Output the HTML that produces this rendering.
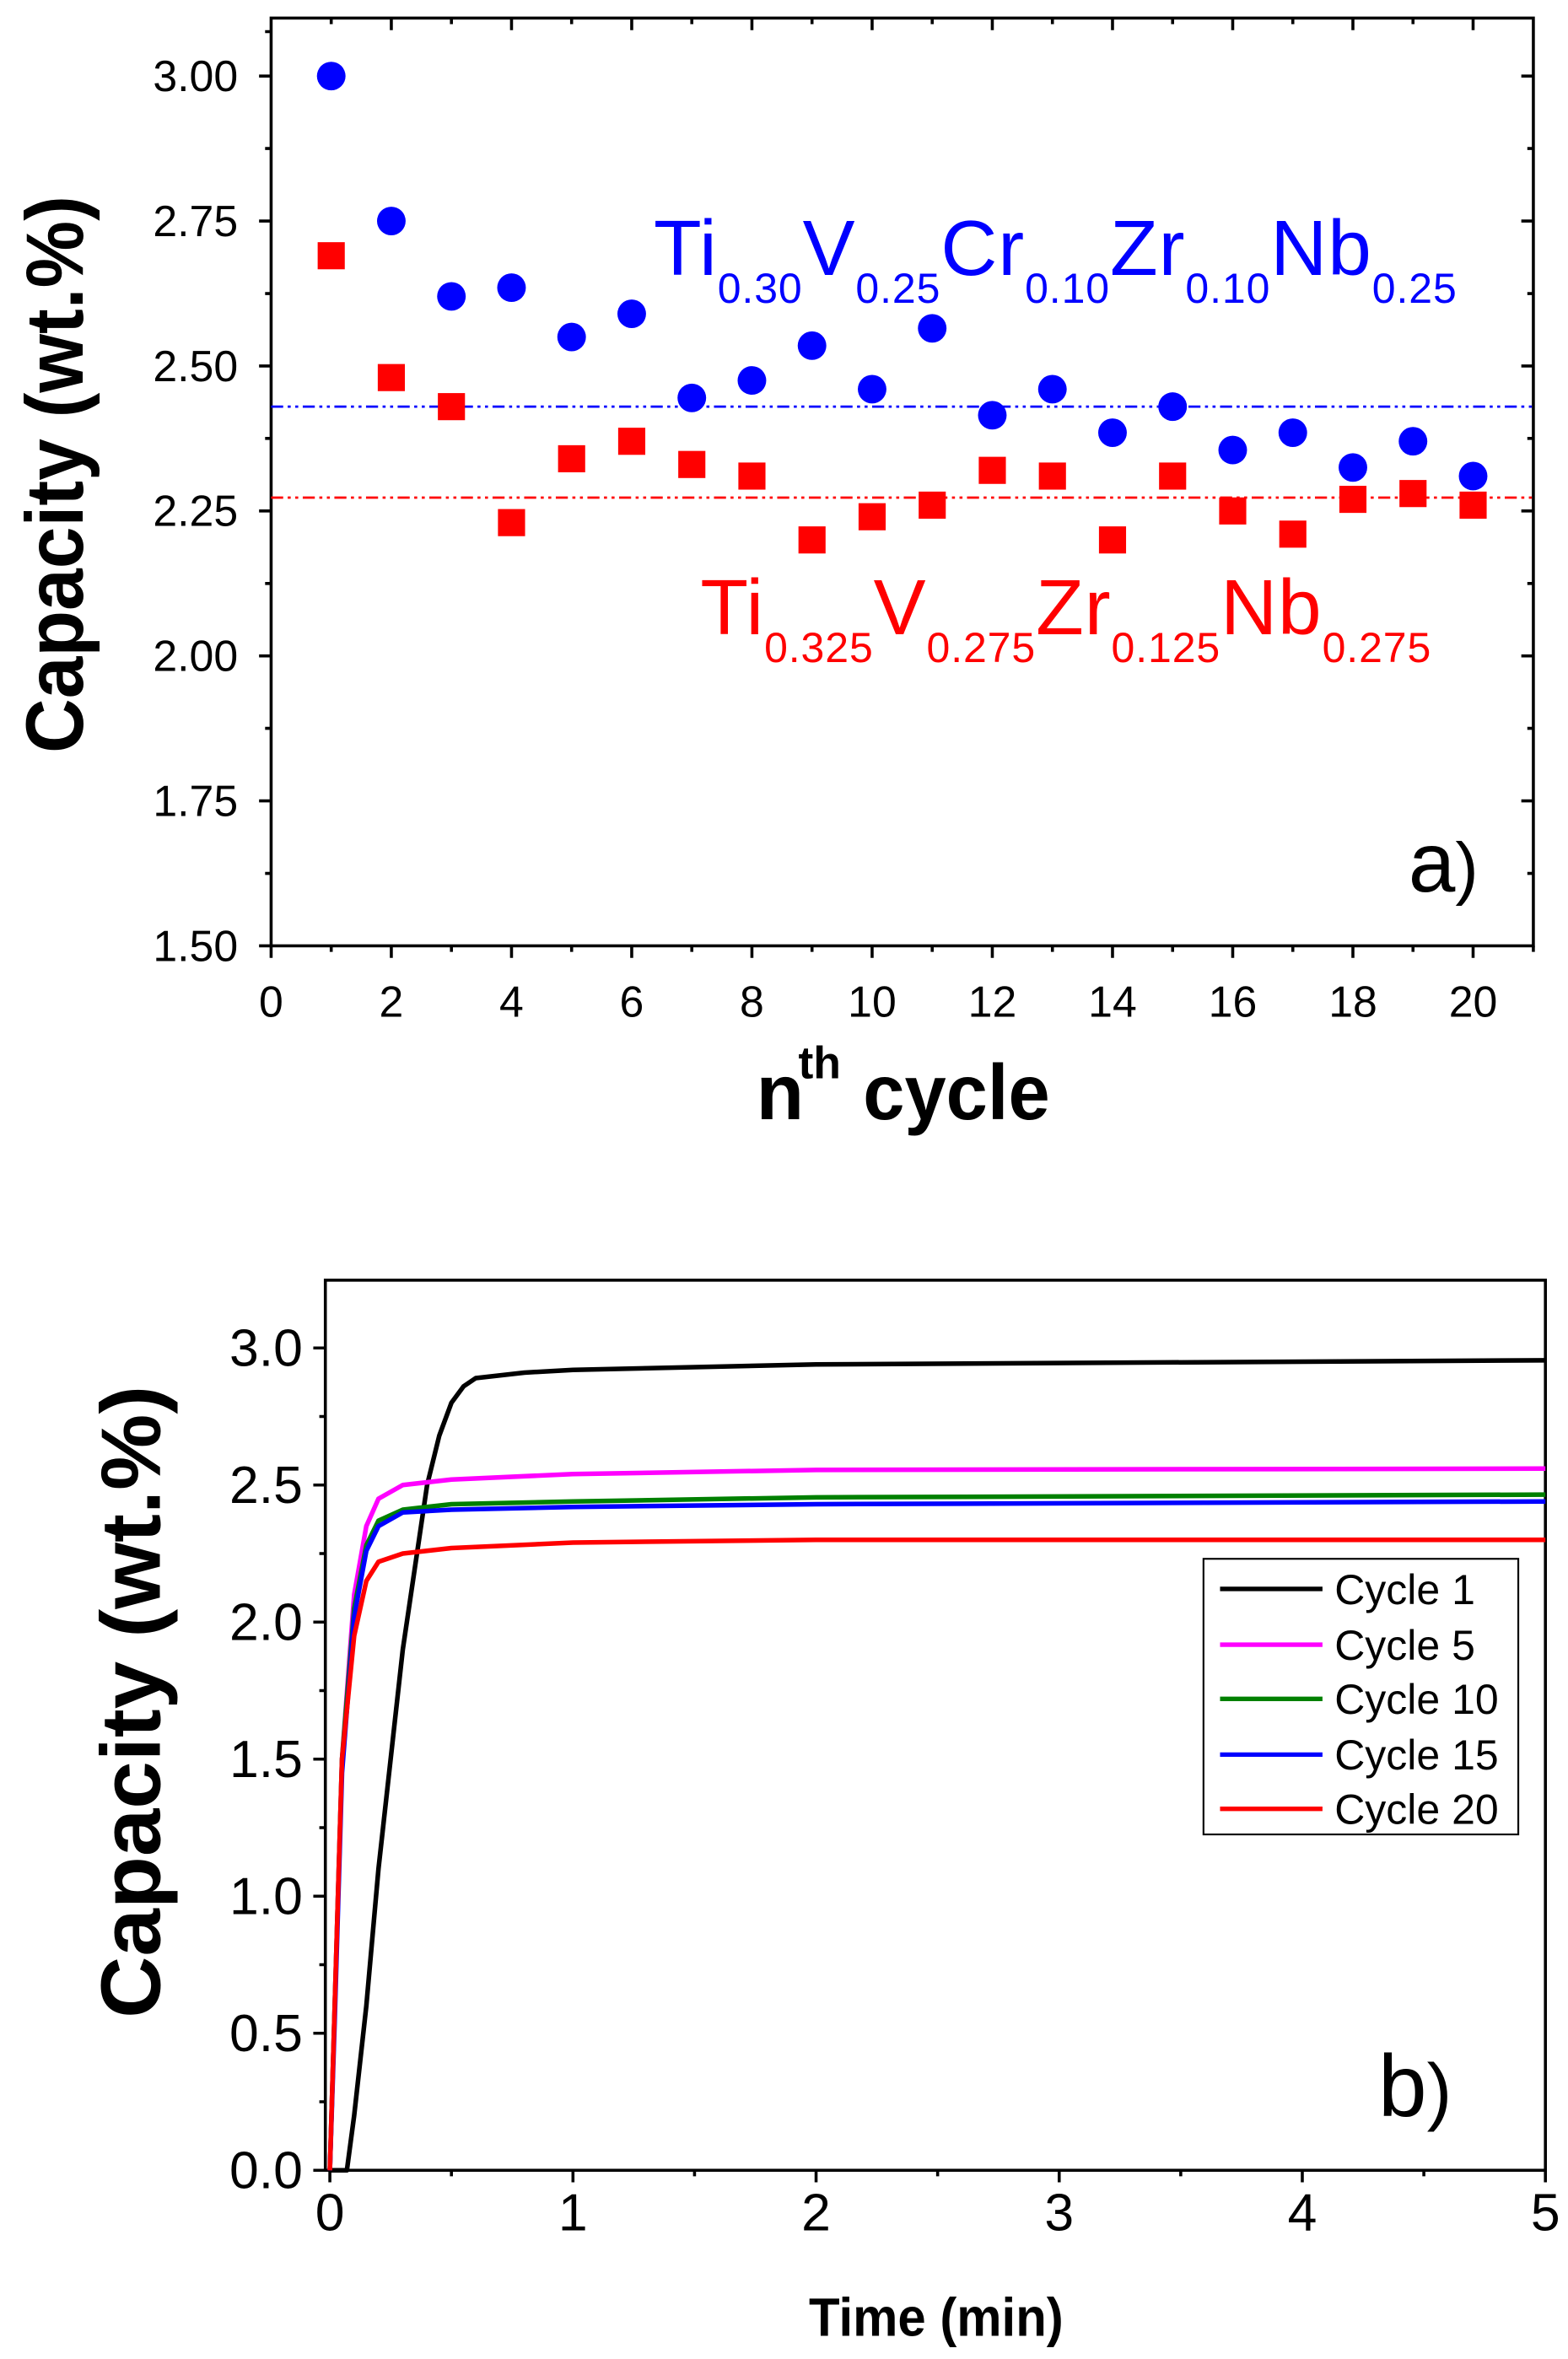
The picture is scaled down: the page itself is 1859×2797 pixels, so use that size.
<!DOCTYPE html>
<html><head><meta charset="utf-8"><style>html,body{margin:0;padding:0;background:#fff}svg{display:block}</style></head>
<body>
<svg width="1859" height="2797" viewBox="0 0 1041 1566.3" preserveAspectRatio="none" xmlns="http://www.w3.org/2000/svg" font-family="Liberation Sans, sans-serif">
<rect width="1041" height="1566.3" fill="#fff"/>
<!-- TOP PLOT -->
<g stroke="#000" stroke-width="2" fill="none">
<rect x="180" y="12" width="838" height="616"/>
<path d="M172 628.0H180M172 531.75H180M172 435.5H180M172 339.25H180M172 243H180M172 146.75H180M172 50.5H180
M176 579.9H180M176 483.6H180M176 387.4H180M176 291.1H180M176 194.9H180M176 98.6H180M176 21H180
M1010 531.75H1018M1010 435.5H1018M1010 339.25H1018M1010 243H1018M1010 146.75H1018M1010 50.5H1018
M1014 579.9H1018M1014 483.6H1018M1014 387.4H1018M1014 291.1H1018M1014 194.9H1018M1014 98.6H1018"/>
<path d="M180 628v8M259.8 628v8M339.6 628v8M419.4 628v8M499.2 628v8M579 628v8M658.8 628v8M738.6 628v8M818.4 628v8M898.2 628v8M978 628v8
M219.9 628v4M299.7 628v4M379.5 628v4M459.3 628v4M539.1 628v4M618.9 628v4M698.7 628v4M778.5 628v4M858.3 628v4M938.1 628v4M1018 628v4
M259.8 12v8M339.6 12v8M419.4 12v8M499.2 12v8M579 12v8M658.8 12v8M738.6 12v8M818.4 12v8M898.2 12v8M978 12v8
M219.9 12v4M299.7 12v4M379.5 12v4M459.3 12v4M539.1 12v4M618.9 12v4M698.7 12v4M778.5 12v4M858.3 12v4M938.1 12v4"/>
</g>
<g font-size="29" text-anchor="end" fill="#000">
<text x="158" y="60.5">3.00</text><text x="158" y="156.75">2.75</text><text x="158" y="253">2.50</text><text x="158" y="349.25">2.25</text><text x="158" y="445.5">2.00</text><text x="158" y="541.75">1.75</text><text x="158" y="638">1.50</text>
</g>
<g font-size="29" text-anchor="middle" fill="#000">
<text x="180" y="675">0</text><text x="259.8" y="675">2</text><text x="339.6" y="675">4</text><text x="419.4" y="675">6</text><text x="499.2" y="675">8</text><text x="579" y="675">10</text><text x="658.8" y="675">12</text><text x="738.6" y="675">14</text><text x="818.4" y="675">16</text><text x="898.2" y="675">18</text><text x="978" y="675">20</text>
</g>
<line x1="180" y1="270" x2="1018" y2="270" stroke="#0000ff" stroke-width="1.5" stroke-dasharray="8,3,2,3,2,3"/>
<line x1="180" y1="330.4" x2="1018" y2="330.4" stroke="#ff0000" stroke-width="1.5" stroke-dasharray="8,3,2,3,2,3"/>
<g fill="#0000ff">
<circle cx="219.9" cy="50.5" r="9.5"/><circle cx="259.8" cy="146.75" r="9.5"/><circle cx="299.7" cy="196.8" r="9.5"/><circle cx="339.6" cy="191" r="9.5"/><circle cx="379.5" cy="223.75" r="9.5"/><circle cx="419.4" cy="208.35" r="9.5"/><circle cx="459.3" cy="264.2" r="9.5"/><circle cx="499.2" cy="252.6" r="9.5"/><circle cx="539.1" cy="229.5" r="9.5"/><circle cx="579" cy="258.4" r="9.5"/><circle cx="618.9" cy="218" r="9.5"/><circle cx="658.8" cy="275.7" r="9.5"/><circle cx="698.7" cy="258.4" r="9.5"/><circle cx="738.6" cy="287.3" r="9.5"/><circle cx="778.5" cy="270" r="9.5"/><circle cx="818.4" cy="298.8" r="9.5"/><circle cx="858.3" cy="287.3" r="9.5"/><circle cx="898.2" cy="310.4" r="9.5"/><circle cx="938.1" cy="293" r="9.5"/><circle cx="978" cy="316.1" r="9.5"/>
</g>
<g fill="#ff0000">
<rect x="210.9" y="160.8" width="18" height="18"/><rect x="250.8" y="241.7" width="18" height="18"/><rect x="290.7" y="261" width="18" height="18"/><rect x="330.6" y="338" width="18" height="18"/><rect x="370.5" y="295.6" width="18" height="18"/><rect x="410.4" y="284" width="18" height="18"/><rect x="450.3" y="299.4" width="18" height="18"/><rect x="490.2" y="307.1" width="18" height="18"/><rect x="530.1" y="349.5" width="18" height="18"/><rect x="570" y="334.1" width="18" height="18"/><rect x="609.9" y="326.4" width="18" height="18"/><rect x="649.8" y="303.3" width="18" height="18"/><rect x="689.7" y="307.1" width="18" height="18"/><rect x="729.6" y="349.5" width="18" height="18"/><rect x="769.5" y="307.1" width="18" height="18"/><rect x="809.4" y="330.25" width="18" height="18"/><rect x="849.3" y="345.65" width="18" height="18"/><rect x="889.2" y="322.55" width="18" height="18"/><rect x="929.1" y="318.7" width="18" height="18"/><rect x="969" y="326.4" width="18" height="18"/>
</g>
<text x="434" y="182.5" font-size="52" fill="#0000ff" letter-spacing="0.5">Ti<tspan font-size="28" dy="18.5">0.30</tspan><tspan dy="-18.5">V</tspan><tspan font-size="28" dy="18.5">0.25</tspan><tspan dy="-18.5">Cr</tspan><tspan font-size="28" dy="18.5">0.10</tspan><tspan dy="-18.5">Zr</tspan><tspan font-size="28" dy="18.5">0.10</tspan><tspan dy="-18.5">Nb</tspan><tspan font-size="28" dy="18.5">0.25</tspan></text>
<text x="465" y="421" font-size="52" fill="#ff0000" letter-spacing="0.5">Ti<tspan font-size="28" dy="18.5">0.325</tspan><tspan dy="-18.5">V</tspan><tspan font-size="28" dy="18.5">0.275</tspan><tspan dy="-18.5">Zr</tspan><tspan font-size="28" dy="18.5">0.125</tspan><tspan dy="-18.5">Nb</tspan><tspan font-size="28" dy="18.5">0.275</tspan></text>
<text x="935" y="592" font-size="56" fill="#000">a<tspan font-size="46">)</tspan></text>
<text transform="translate(55,315) rotate(-90)" text-anchor="middle" font-size="54" font-weight="bold" textLength="370" lengthAdjust="spacingAndGlyphs">Capacity (wt.%)</text>
<text x="502" y="743" font-size="52" font-weight="bold">n</text>
<text x="530" y="716" font-size="30" font-weight="bold">th</text>
<text x="573" y="743" font-size="52" font-weight="bold" textLength="124" lengthAdjust="spacingAndGlyphs">cycle</text>

<!-- BOTTOM PLOT -->
<g stroke="#000" stroke-width="2" fill="none">
<rect x="216" y="850" width="810" height="591"/>
<path d="M208 1441H216M208 1350H216M208 1259H216M208 1168H216M208 1077H216M208 986H216M208 895H216
M212 1395.5H216M212 1304.5H216M212 1213.5H216M212 1122.5H216M212 1031.5H216M212 940.5H216
M219 1441v8M380.4 1441v8M541.8 1441v8M703.2 1441v8M864.6 1441v8M1026 1441v8
M299.7 1441v4M461.1 1441v4M622.5 1441v4M783.9 1441v4M945.3 1441v4"/>
</g>
<g font-size="35" text-anchor="end" fill="#000">
<text x="201" y="1453">0.0</text><text x="201" y="1362">0.5</text><text x="201" y="1271">1.0</text><text x="201" y="1180">1.5</text><text x="201" y="1089">2.0</text><text x="201" y="998">2.5</text><text x="201" y="907">3.0</text>
</g>
<g font-size="35" text-anchor="middle" fill="#000">
<text x="219" y="1481">0</text><text x="380.4" y="1481">1</text><text x="541.8" y="1481">2</text><text x="703.2" y="1481">3</text><text x="864.6" y="1481">4</text><text x="1026" y="1481">5</text>
</g>
<g transform="translate(219,1441) scale(161.4,-182)" fill="none" stroke-width="5.5" stroke-linejoin="round">
<polyline vector-effect="non-scaling-stroke" stroke="#000" points="0,0 0.07,0 0.1,0.2 0.15,0.6 0.2,1.1 0.3,1.9 0.4,2.5 0.45,2.68 0.5,2.8 0.55,2.86 0.6,2.89 0.8,2.91 1,2.92 2,2.94 5,2.955"/>
<polyline vector-effect="non-scaling-stroke" stroke="#ff00ff" points="0,0 0.02,0.6 0.05,1.5 0.1,2.1 0.15,2.35 0.2,2.45 0.3,2.5 0.5,2.52 1,2.54 2,2.555 5,2.56"/>
<polyline vector-effect="non-scaling-stroke" stroke="#008000" points="0,0 0.02,0.6 0.05,1.5 0.1,2.05 0.15,2.28 0.2,2.37 0.3,2.41 0.5,2.43 1,2.44 2,2.455 5,2.465"/>
<polyline vector-effect="non-scaling-stroke" stroke="#0000ff" points="0,0 0.02,0.55 0.05,1.45 0.1,2.02 0.15,2.26 0.2,2.35 0.3,2.40 0.5,2.41 1,2.42 2,2.43 5,2.44"/>
<polyline vector-effect="non-scaling-stroke" stroke="#ff0000" points="0,0 0.02,0.6 0.05,1.5 0.1,1.95 0.15,2.15 0.2,2.22 0.3,2.25 0.5,2.27 1,2.29 2,2.30 5,2.30"/>
</g>
<rect x="799" y="1035" width="209" height="183" fill="#fff" stroke="#000" stroke-width="1.2"/>
<g stroke-width="3">
<line x1="810" y1="1055" x2="878" y2="1055" stroke="#000"/>
<line x1="810" y1="1092" x2="878" y2="1092" stroke="#ff00ff"/>
<line x1="810" y1="1128" x2="878" y2="1128" stroke="#008000"/>
<line x1="810" y1="1165" x2="878" y2="1165" stroke="#0000ff"/>
<line x1="810" y1="1201" x2="878" y2="1201" stroke="#ff0000"/>
</g>
<g font-size="28" fill="#000">
<text x="886" y="1065">Cycle 1</text><text x="886" y="1102">Cycle 5</text><text x="886" y="1138">Cycle 10</text><text x="886" y="1175">Cycle 15</text><text x="886" y="1211">Cycle 20</text>
</g>
<text x="915" y="1405" font-size="58" fill="#000">b<tspan font-size="50">)</tspan></text>
<text transform="translate(106,1130) rotate(-90)" text-anchor="middle" font-size="56" font-weight="bold" textLength="420" lengthAdjust="spacingAndGlyphs">Capacity (wt.%)</text>
<text x="537" y="1551" font-size="36" font-weight="bold" textLength="169" lengthAdjust="spacingAndGlyphs">Time (min)</text>
</svg>
</body></html>
